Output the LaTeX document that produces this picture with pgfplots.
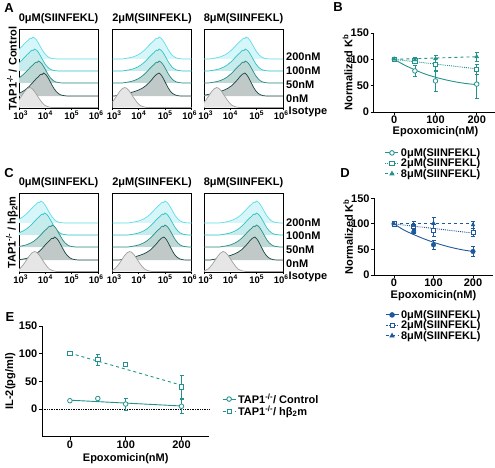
\documentclass[border=0pt]{standalone}
\usepackage{fontspec}
\setmainfont{Liberation Sans}
\usepackage{pgfplots}
\pgfplotsset{compat=1.18}
\usepackage{pgfplotstable}

\definecolor{tealc}{RGB}{33,146,140}
\definecolor{bluec}{RGB}{30,90,155}
\definecolor{l200}{RGB}{95,222,232}
\definecolor{f200}{RGB}{214,246,249}
\definecolor{l100}{RGB}{45,196,200}
\definecolor{f100}{RGB}{198,236,238}
\definecolor{l50}{RGB}{38,140,134}
\definecolor{f50}{RGB}{190,216,214}
\definecolor{l0}{RGB}{24,70,66}
\definecolor{f0}{RGB}{192,200,200}
\definecolor{liso}{RGB}{160,160,160}
\definecolor{fiso}{RGB}{230,230,230}

\newcommand{\fs}{\bfseries\fontsize{11}{13}\selectfont}

% histogram shapes: offset from peak (log10 units), relative height
\pgfplotstableread{
dx y
-6 0
-1.40 0
-1.25 0.03
-1.10 0.06
-0.95 0.11
-0.80 0.19
-0.68 0.28
-0.56 0.40
-0.45 0.53
-0.35 0.66
-0.27 0.76
-0.20 0.83
-0.14 0.91
-0.09 0.95
-0.05 0.93
0.00 1.00
0.04 0.97
0.08 0.94
0.13 0.87
0.19 0.76
0.26 0.61
0.33 0.46
0.40 0.32
0.48 0.20
0.56 0.11
0.65 0.05
0.75 0.02
0.90 0
6 0
}\bellshape

\pgfplotstableread{
dx y
-6 0
-1.70 0
-1.50 0.04
-1.30 0.09
-1.10 0.14
-0.95 0.19
-0.80 0.25
-0.65 0.33
-0.50 0.45
-0.38 0.58
-0.27 0.72
-0.18 0.85
-0.10 0.94
-0.05 0.97
0.00 1.00
0.05 0.95
0.10 0.88
0.17 0.74
0.25 0.56
0.33 0.38
0.42 0.22
0.50 0.12
0.60 0.05
0.72 0.01
0.85 0
6 0
}\shouldershape

\pgfplotstableread{
dx y
-6 0
-0.85 0
-0.70 0.04
-0.55 0.15
-0.42 0.35
-0.30 0.58
-0.20 0.78
-0.10 0.93
0.00 1.00
0.08 0.96
0.18 0.82
0.28 0.62
0.38 0.42
0.48 0.24
0.58 0.11
0.70 0.04
0.85 0
6 0
}\isoshape

\pgfplotsset{
  legend image code/.code={\draw[mark repeat=2,mark phase=2,#1] plot coordinates {(0pt,0pt) (6.5pt,0pt) (13pt,0pt)};},
  hist/.style={scale only axis, width=79pt, height=79pt, anchor=south west,
    xmin=3, xmax=6, ymin=0, ymax=79, ytick=\empty,
    xtick={3,4,5,6},
    xticklabels={\hspace*{3.5pt}10\textsuperscript{3},10\textsuperscript{4},10\textsuperscript{5},10\textsuperscript{6}\hspace*{3.5pt}},
    xtick pos=bottom, tick align=outside, major tick length=2pt,
    tick style={black, line width=0.7pt},
    xticklabel style={font=\bfseries\fontsize{9.5}{11}\selectfont, inner sep=1pt},
    axis line style={line width=0.8pt},
    title style={font=\fs, at={(0.5,1)}, anchor=south, yshift=-1.5pt, inner sep=1pt}},
  lineax/.style={scale only axis, anchor=south west, axis lines*=left,
    axis line style={-, line width=0.8pt}, tick align=outside, major tick length=3pt,
    tick style={black, line width=0.8pt},
    /pgf/number format/assume math mode=true,
    tick label style={font=\fs}, label style={font=\fs},
    xticklabel style={inner sep=1pt}, yticklabel style={inner sep=1.5pt},
    xmin=-50, xmax=250, xtick={0,100,200}, clip=false,
    legend cell align=left,
    legend style={draw=none, fill=none, font=\fs, row sep=-3pt, inner sep=0pt}},
  errs/.style={error bars/y dir=both, error bars/y explicit,
    error bars/error bar style={line width=0.8pt},
    error bars/error mark options={rotate=90, mark size=2pt, line width=0.8pt}},
}

\newcommand{\histpanel}[9]{%
\begin{axis}[hist, at={(#1pt,#2pt)}, title={#9}]
\addplot[draw=l200, fill=f200, line width=0.7pt] table[x expr=\thisrow{dx}+#3, y expr=49+22*\thisrow{y}] {\bellshape};
\addplot[draw=l100, fill=f100, line width=0.7pt] table[x expr=\thisrow{dx}+#4, y expr=37+22*\thisrow{y}] {\bellshape};
\addplot[draw=l50, fill=f50, line width=0.7pt] table[x expr=\thisrow{dx}+#5, y expr=25+22*\thisrow{y}] {\bellshape};
\addplot[draw=l0, fill=f0, line width=0.7pt] table[x expr=\thisrow{dx}+#6, y expr=12+23*\thisrow{y}] {#7};
\addplot[draw=liso, fill=fiso, line width=0.7pt] table[x expr=\thisrow{dx}+#8, y expr=0.5+20*\thisrow{y}] {\isoshape};
\end{axis}}

\begin{document}
\begin{tikzpicture}
\useasboundingbox (0,0) rectangle (495pt,467pt);

% ---------- Panel A ----------
\histpanel{19}{359}{3.53}{3.59}{3.74}{3.93}{\bellshape}{3.40}{0μM(SIINFEKL)}
\histpanel{112.5}{359}{4.77}{4.77}{4.77}{4.77}{\shouldershape}{3.46}{2μM(SIINFEKL)}
\histpanel{204}{359}{4.60}{4.57}{4.57}{4.55}{\shouldershape}{3.48}{8μM(SIINFEKL)}

% ---------- Panel C ----------
\histpanel{19}{195}{3.83}{3.97}{4.26}{4.35}{\bellshape}{3.59}{0μM(SIINFEKL)}
\histpanel{112.5}{195}{4.99}{4.99}{4.99}{4.95}{\shouldershape}{3.65}{2μM(SIINFEKL)}
\histpanel{204}{195}{4.99}{4.99}{4.99}{4.93}{\shouldershape}{3.73}{8μM(SIINFEKL)}

% right-hand labels
\foreach \py/\t in {57/200nM,71/100nM,85/50nM,98/0nM}{
  \node[anchor=base west, font=\fs, inner sep=0pt] at (286pt,{(463-\py)*1pt}) {\t};
}
\node[anchor=base west, font=\fs, inner sep=0pt] at (288.5pt,353pt) {Isotype};
\foreach \py/\t in {222/200nM,235/100nM,249/50nM,263/0nM}{
  \node[anchor=base west, font=\fs, inner sep=0pt] at (286pt,{(463-\py)*1pt}) {\t};
}
\node[anchor=base west, font=\fs, inner sep=0pt] at (288.5pt,188pt) {Isotype};
\node[rotate=90, font=\fs, inner sep=0pt] at (12pt,398.5pt) {TAP1\textsuperscript{-/-} / Control};
\node[rotate=90, font=\fs, inner sep=0pt] at (12pt,234.5pt) {TAP1\textsuperscript{-/-} / hβ\textsubscript{2}m};

% panel letters
\node[font=\bfseries\fontsize{13}{15}\selectfont] at (9pt,459pt) {A};
\node[font=\bfseries\fontsize{13}{15}\selectfont] at (338pt,460pt) {B};
\node[font=\bfseries\fontsize{13}{15}\selectfont] at (9pt,294pt) {C};
\node[font=\bfseries\fontsize{13}{15}\selectfont] at (345pt,294pt) {D};
\node[font=\bfseries\fontsize{13}{15}\selectfont] at (10pt,150pt) {E};

% ---------- Panel B ----------
\begin{axis}[lineax, at={(373.7pt,355pt)}, width=123.6pt, height=79pt,
  ymin=0, ymax=150, ytick={0,50,100,150},
  xlabel={Epoxomicin(nM)}, ylabel={Normalized K\textsuperscript{b}},
  xlabel style={at={(axis description cs:0.5,-0.245)}, anchor=center},
  ylabel style={at={(axis description cs:-0.21,0.5)}, anchor=center},
  legend style={at={(axis description cs:0.09,-0.43)}, anchor=north west}]
\addplot[tealc, line width=0.9pt, smooth, forget plot] coordinates {(0,100)(25,89)(50,80)(75,72)(100,66)(125,61)(150,57)(175,54)(200,52)};
\addplot[tealc, line width=0.9pt, densely dotted, forget plot] coordinates {(0,100)(200,82)};
\addplot[tealc, line width=0.9pt, dashed, forget plot] coordinates {(0,100)(200,105)};
\addplot[tealc, only marks, mark=*, mark size=2.3pt, mark options={fill=white, line width=0.8pt}, forget plot, errs] coordinates {(0,100) +- (0,0) (50,78) +- (0,10) (100,59) +- (0,19) (200,53) +- (0,27)};
\addplot[tealc, only marks, mark=square*, mark size=2.1pt, mark options={fill=white, line width=0.8pt}, forget plot, errs] coordinates {(0,100) +- (0,0) (50,97) +- (0,4) (100,90) +- (0,11) (200,81) +- (0,9)};
\addplot[tealc, only marks, mark=triangle*, mark size=2.3pt, mark options={fill=tealc}, forget plot, errs] coordinates {(0,100) +- (0,0) (50,99) +- (0,5) (100,101) +- (0,6) (200,105) +- (0,9)};
\addlegendimage{tealc, line width=0.9pt, mark=*, mark size=2.3pt, mark options={fill=white, solid}}
\addlegendentry{0μM(SIINFEKL)}
\addlegendimage{tealc, line width=0.9pt, densely dotted, mark=square*, mark size=2.1pt, mark options={fill=white, solid}}
\addlegendentry{2μM(SIINFEKL)}
\addlegendimage{tealc, line width=0.9pt, dashed, mark=triangle*, mark size=2.3pt, mark options={solid}}
\addlegendentry{8μM(SIINFEKL)}
\end{axis}

% ---------- Panel D ----------
\begin{axis}[lineax, at={(374.25pt,192pt)}, width=118.5pt, height=76.7pt,
  ymin=0, ymax=150, ytick={0,50,100,150},
  xlabel={Epoxomicin(nM)}, ylabel={Normalized K\textsuperscript{b}},
  xlabel style={at={(axis description cs:0.5,-0.27)}, anchor=center},
  ylabel style={at={(axis description cs:-0.22,0.5)}, anchor=center},
  legend style={at={(axis description cs:0.09,-0.43)}, anchor=north west}]
\addplot[bluec, line width=0.9pt, smooth, forget plot] coordinates {(0,100)(25,88)(50,79)(75,71)(100,64)(125,58)(150,53)(175,49)(200,46)};
\addplot[bluec, line width=0.9pt, densely dotted, forget plot] coordinates {(0,100)(200,82)};
\addplot[bluec, line width=0.9pt, dashed, forget plot] coordinates {(0,100)(200,100)};
\addplot[bluec, only marks, mark=*, mark size=2.3pt, forget plot, errs] coordinates {(0,100) +- (0,0) (50,84) +- (0,3) (100,59) +- (0,8) (200,46) +- (0,9)};
\addplot[bluec, only marks, mark=square*, mark size=2.1pt, mark options={fill=white, line width=0.8pt}, forget plot, errs] coordinates {(0,100) +- (0,0) (50,95) +- (0,4) (100,87) +- (0,11) (200,83) +- (0,8)};
\addplot[bluec, only marks, mark=triangle*, mark size=2.3pt, forget plot, errs] coordinates {(0,100) +- (0,0) (50,97) +- (0,8) (100,101) +- (0,11) (200,98) +- (0,7)};
\addlegendimage{bluec, line width=0.9pt, mark=*, mark size=2.3pt, mark options={solid}}
\addlegendentry{0μM(SIINFEKL)}
\addlegendimage{bluec, line width=0.9pt, densely dotted, mark=square*, mark size=2.1pt, mark options={fill=white, solid}}
\addlegendentry{2μM(SIINFEKL)}
\addlegendimage{bluec, line width=0.9pt, dashed, mark=triangle*, mark size=2.3pt, mark options={solid}}
\addlegendentry{8μM(SIINFEKL)}
\end{axis}

% ---------- Panel E ----------
\begin{axis}[lineax, at={(42pt,30.3pt)}, width=167.4pt, height=110.7pt,
  ymin=-50, ymax=150, ytick={0,50,100,150},
  xlabel={Epoxomicin(nM)}, ylabel={IL-2(pg/ml)},
  xlabel style={at={(axis description cs:0.5,-0.2)}, anchor=center},
  ylabel style={at={(axis description cs:-0.19,0.5)}, anchor=center},
  legend style={at={(axis description cs:1.075,0.41)}, anchor=north west}]
\addplot[black, densely dotted, line width=0.7pt, forget plot] coordinates {(-50,0)(250,0)};
\addplot[tealc, line width=0.9pt, forget plot] coordinates {(0,16)(200,5.5)};
\addplot[tealc, line width=0.9pt, dashed, forget plot] coordinates {(0,101)(200,43)};
\addplot[tealc, only marks, mark=*, mark size=2.3pt, mark options={fill=white, line width=0.8pt}, forget plot, errs] coordinates {(0,15) +- (0,0) (50,19) +- (0,0) (100,9) +- (0,11) (200,5) +- (0,12)};
\addplot[tealc, only marks, mark=square*, mark size=2.1pt, mark options={fill=white, line width=0.8pt}, forget plot, errs] coordinates {(0,100) +- (0,0) (50,89) +- (0,10) (100,80) +- (0,3) (200,40) +- (0,21)};
\addlegendimage{tealc, line width=0.9pt, mark=*, mark size=2.3pt, mark options={fill=white, solid}}
\addlegendentry{TAP1\textsuperscript{-/-}/ Control}
\addlegendimage{tealc, line width=0.9pt, dashed, mark=square*, mark size=2.1pt, mark options={fill=white, solid}}
\addlegendentry{TAP1\textsuperscript{-/-}/ hβ\textsubscript{2}m}
\end{axis}
\end{tikzpicture}
\end{document}
